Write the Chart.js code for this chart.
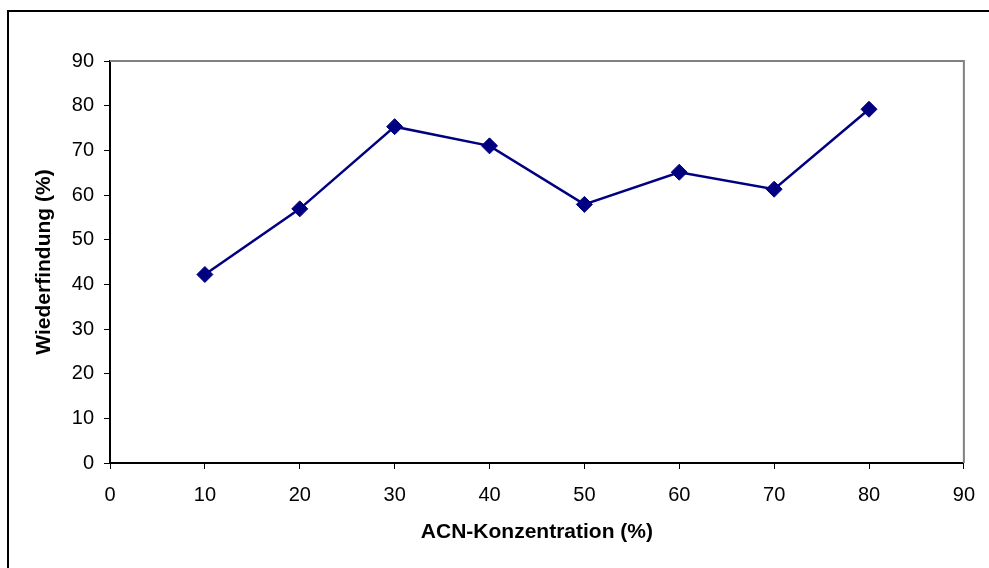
<!DOCTYPE html>
<html>
<head>
<meta charset="utf-8">
<script src="https://cdn.jsdelivr.net/npm/chart.js@4/dist/chart.umd.min.js"></script>
<style>
  html, body { margin: 0; padding: 0; background: #ffffff; overflow: hidden; }
  #wrap { position: relative; width: 989px; height: 568px; }
</style>
</head>
<body>
<div id="wrap"><canvas id="c" width="989" height="568"></canvas></div>
<script>
const acnConcentration = [10, 20, 30, 40, 50, 60, 70, 80];
const recoveryPercent = [42.2, 56.9, 75.3, 71.0, 57.9, 65.1, 61.3, 79.2];
const axisTicks = [0, 10, 20, 30, 40, 50, 60, 70, 80, 90];
const xTitle = 'ACN-Konzentration (%)';
const yTitle = 'Wiederfindung (%)';

const FONT = 'Liberation Sans, Arial, sans-serif';

const framePlugin = {
  id: 'frame',
  beforeDraw(chart) {
    const ctx = chart.ctx;
    ctx.save();
    ctx.fillStyle = '#ffffff';
    ctx.fillRect(0, 0, chart.width, chart.height);
    ctx.strokeStyle = '#000000';
    ctx.lineWidth = 2;
    ctx.beginPath();
    ctx.moveTo(8, chart.height + 5);
    ctx.lineTo(8, 11);
    ctx.lineTo(chart.width + 5, 11);
    ctx.stroke();
    ctx.restore();
  },
  beforeDatasetsDraw(chart) {
    const a = chart.chartArea;
    const ctx = chart.ctx;
    ctx.save();
    ctx.strokeStyle = '#808080';
    ctx.lineWidth = 2;
    ctx.beginPath();
    ctx.moveTo(a.left, a.top);
    ctx.lineTo(a.right, a.top);
    ctx.lineTo(a.right, a.bottom);
    ctx.stroke();
    ctx.restore();
  }
};

const points = acnConcentration.map((x, i) => ({ x: x, y: recoveryPercent[i] }));

new Chart(document.getElementById('c'), {
  type: 'line',
  data: {
    datasets: [{
      data: points,
      borderColor: '#000080',
      backgroundColor: '#000080',
      borderWidth: 2.5,
      pointStyle: 'rectRot',
      pointRadius: 8,
      pointBorderWidth: 1,
      pointBorderColor: '#000080',
      pointBackgroundColor: '#000080',
      tension: 0,
      fill: false
    }]
  },
  options: {
    responsive: false,
    animation: false,
    devicePixelRatio: 1,
    layout: { padding: { top: 61, right: 24, left: 0, bottom: 0 } },
    plugins: { legend: { display: false }, tooltip: { enabled: false } },
    scales: {
      x: {
        type: 'linear',
        min: 0, max: 90,
        afterBuildTicks(scale) { scale.ticks = axisTicks.map(v => ({ value: v })); },
        afterFit(scale) { scale.height = 568 - 463; },
        border: { display: true, color: '#000000', width: 2 },
        grid: { drawOnChartArea: false, drawTicks: true, tickLength: 6, color: '#000000', lineWidth: 1 },
        ticks: { color: '#000000', font: { family: FONT, size: 20 }, padding: 14, maxRotation: 0, autoSkip: false },
        title: { display: true, text: xTitle, color: '#000000', font: { family: FONT, size: 21, weight: 'bold' }, padding: { top: 0, bottom: 23 } }
      },
      y: {
        type: 'linear',
        min: 0, max: 90,
        afterBuildTicks(scale) { scale.ticks = axisTicks.map(v => ({ value: v })); },
        afterFit(scale) { scale.width = 110; },
        border: { display: true, color: '#000000', width: 2 },
        grid: { drawOnChartArea: false, drawTicks: true, tickLength: 6, color: '#000000', lineWidth: 1 },
        ticks: { color: '#000000', font: { family: FONT, size: 20 }, padding: 10, autoSkip: false },
        title: { display: true, text: yTitle, color: '#000000', font: { family: FONT, size: 21, weight: 'bold' }, padding: { top: 32, bottom: 0 } }
      }
    }
  },
  plugins: [framePlugin]
});
</script>
</body>
</html>
